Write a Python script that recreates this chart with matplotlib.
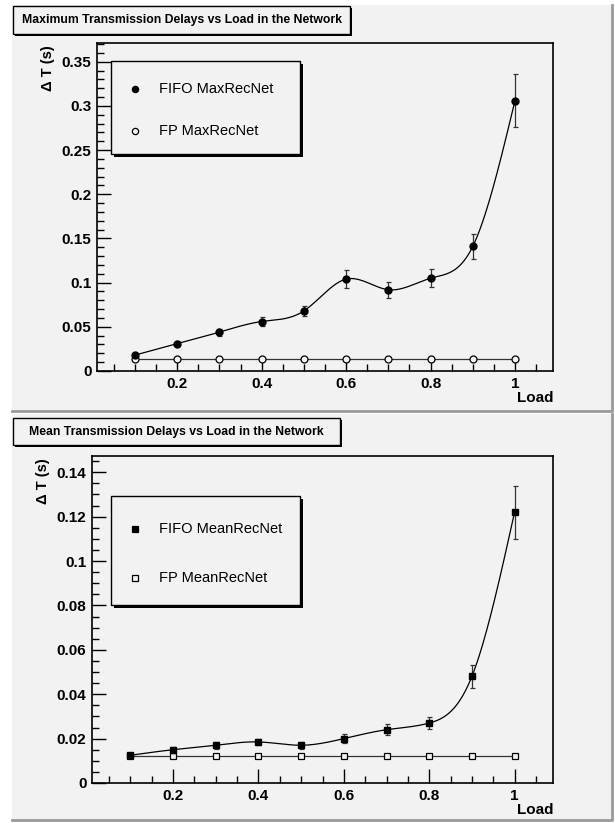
import numpy as np
import matplotlib.pyplot as plt
from matplotlib.patches import Rectangle
from matplotlib.lines import Line2D
from matplotlib.ticker import MultipleLocator, FuncFormatter

# data
load = [0.1, 0.2, 0.3, 0.4, 0.5, 0.6, 0.7, 0.8, 0.9, 1.0]
fifo_max = [0.018, 0.031, 0.044, 0.056, 0.068, 0.104, 0.092, 0.105, 0.141, 0.306]
fifo_max_err = [0.002, 0.003, 0.004, 0.005, 0.006, 0.010, 0.009, 0.010, 0.014, 0.030]
fp_max = [0.014, 0.014, 0.014, 0.014, 0.014, 0.014, 0.014, 0.014, 0.014, 0.014]
fifo_mean = [0.0125, 0.015, 0.017, 0.0185, 0.017, 0.020, 0.024, 0.027, 0.048, 0.122]
fifo_mean_err = [0.001, 0.0012, 0.0015, 0.0015, 0.0015, 0.002, 0.0025, 0.0028, 0.005, 0.012]
fp_mean = [0.012, 0.012, 0.012, 0.012, 0.012, 0.012, 0.012, 0.012, 0.012, 0.012]

W, H = 615, 823
BG = '#f2f2f2'
plt.rcParams['font.family'] = ['Liberation Sans', 'DejaVu Sans']


def spline(x, y, n=400):
    # natural cubic spline, like ROOT's "C" draw option
    x = np.asarray(x, float)
    y = np.asarray(y, float)
    k = len(x)
    h = np.diff(x)
    A = np.zeros((k, k))
    b = np.zeros(k)
    A[0, 0] = A[-1, -1] = 1
    for i in range(1, k - 1):
        A[i, i - 1] = h[i - 1]
        A[i, i] = 2 * (h[i - 1] + h[i])
        A[i, i + 1] = h[i]
        b[i] = 6 * ((y[i + 1] - y[i]) / h[i] - (y[i] - y[i - 1]) / h[i - 1])
    m = np.linalg.solve(A, b)
    xs = np.linspace(x[0], x[-1], n)
    j = np.clip(np.searchsorted(x, xs) - 1, 0, k - 2)
    t0 = x[j + 1] - xs
    t1 = xs - x[j]
    hj = h[j]
    ys = (m[j] * t0 ** 3 + m[j + 1] * t1 ** 3) / (6 * hj) \
        + (y[j] / hj - m[j] * hj / 6) * t0 + (y[j + 1] / hj - m[j + 1] * hj / 6) * t1
    return xs, ys


def fx(x):
    return x / W


def fy(y):
    return 1 - y / H


def box(fig, x0, y0, x1, y1, shadow=3, lw=1.0):
    fig.patches.append(Rectangle((fx(x0 + shadow), fy(y1 + shadow)), fx(x1 - x0), (y1 - y0) / H,
                                 transform=fig.transFigure, facecolor='black', edgecolor='none', zorder=5))
    fig.patches.append(Rectangle((fx(x0), fy(y1)), fx(x1 - x0), (y1 - y0) / H,
                                 transform=fig.transFigure, facecolor=BG, edgecolor='black', lw=lw, zorder=6))


def pad(fig, x0, y0, x1, y1):
    fig.patches.append(Rectangle((fx(x0), fy(y1)), fx(x1 - x0), (y1 - y0) / H,
                                 transform=fig.transFigure, facecolor=BG, edgecolor='none', zorder=-3))
    fig.lines.append(Line2D([fx(x0), fx(x1), fx(x1)], [fy(y1), fy(y1), fy(y0)],
                            transform=fig.transFigure, color='#9a9a9a', lw=2, zorder=-2))


def fmt(v, pos):
    if abs(v) < 1e-9:
        return '0'
    return ('%.3f' % v).rstrip('0').rstrip('.')


def panel(fig, rect, title, tbox, ymax, ymaj, ymin_, yfifo, yerr, yfp, marker, fifo_lbl, fp_lbl, lbox):
    left, top, right, bottom = rect
    ax = fig.add_axes([fx(left), fy(bottom), fx(right - left), (bottom - top) / H])
    ax.set_facecolor(BG)
    ax.set_xlim(0.01, 1.09)
    ax.set_ylim(0, ymax)
    ms = 5 if marker == 'o' else 4.8

    xs, ys = spline(load, yfifo)
    ax.plot(xs, ys, color='black', lw=0.9, zorder=3)
    ax.errorbar(load, yfifo, yerr=yerr, fmt='none', ecolor='#333333', elinewidth=0.9,
                capsize=1.8, capthick=0.9, zorder=4)
    ax.plot(load, yfifo, linestyle='none', marker=marker, ms=ms, color='black', zorder=5)
    ax.plot(load, yfp, color='#333333', lw=0.9, marker=marker, ms=ms,
            mfc=BG, mec='black', mew=0.9, zorder=4)

    ax.xaxis.set_major_locator(MultipleLocator(0.2))
    ax.xaxis.set_minor_locator(MultipleLocator(0.05))
    ax.yaxis.set_major_locator(MultipleLocator(ymaj))
    ax.yaxis.set_minor_locator(MultipleLocator(ymin_))
    ax.xaxis.set_major_formatter(FuncFormatter(fmt))
    ax.yaxis.set_major_formatter(FuncFormatter(fmt))
    ax.tick_params(which='both', direction='in', top=False, right=False, color='black')
    ax.tick_params(which='major', length=10, width=1, labelsize=11, pad=4)
    ax.tick_params(which='minor', length=5, width=1)
    for lab in ax.get_xticklabels() + ax.get_yticklabels():
        lab.set_fontweight('bold')
    for s in ax.spines.values():
        s.set_linewidth(1.2)

    ax.text(1.0, -0.062, 'Load', transform=ax.transAxes, ha='right', va='top',
            fontsize=11, fontweight='bold')
    fig.text(fx(rect[0] - 49), fy(top + 2), '\u0394 T (s)', rotation=90, ha='center', va='top',
             fontsize=10.5, fontweight='bold')

    tx0, ty0, tx1, ty1 = tbox
    box(fig, tx0, ty0, tx1, ty1, shadow=2)
    fig.text(fx((tx0 + tx1) / 2), fy((ty0 + ty1) / 2), title, ha='center', va='center',
             fontsize=8.8, fontweight='bold', zorder=7)

    lx0, ly0, lx1, ly1 = lbox
    box(fig, lx0, ly0, lx1, ly1, shadow=3)
    rows = [ly0 + (ly1 - ly0) * 0.3, ly0 + (ly1 - ly0) * 0.75]
    for r, lbl, face in zip(rows, [fifo_lbl, fp_lbl], ['black', BG]):
        fig.lines.append(Line2D([fx(lx0 + 24)], [fy(r)], transform=fig.transFigure,
                                marker=marker, ms=4.5, mfc=face,
                                mec='black', mew=0.9, linestyle='none', zorder=8))
        fig.text(fx(lx0 + 48), fy(r), lbl, ha='left', va='center', fontsize=10.5, zorder=8)
    return ax


fig = plt.figure(figsize=(W / 100, H / 100), dpi=100)
fig.patch.set_facecolor('white')
pad(fig, 12, 5, 612, 411)
pad(fig, 12, 414, 612, 820)

panel(fig, (97, 43, 553, 371), 'Maximum Transmission Delays vs Load in the Network',
      (13, 6, 350, 34), 0.3712, 0.05, 0.01, fifo_max, fifo_max_err, fp_max, 'o',
      'FIFO MaxRecNet', 'FP MaxRecNet', (111, 61, 300, 154))
panel(fig, (92, 456, 553, 783), 'Mean Transmission Delays vs Load in the Network',
      (13, 418, 340, 445), 0.1473, 0.02, 0.005, fifo_mean, fifo_mean_err, fp_mean, 's',
      'FIFO MeanRecNet', 'FP MeanRecNet', (111, 496, 300, 605))

fig.savefig('out.png', dpi=100, facecolor=fig.get_facecolor())
